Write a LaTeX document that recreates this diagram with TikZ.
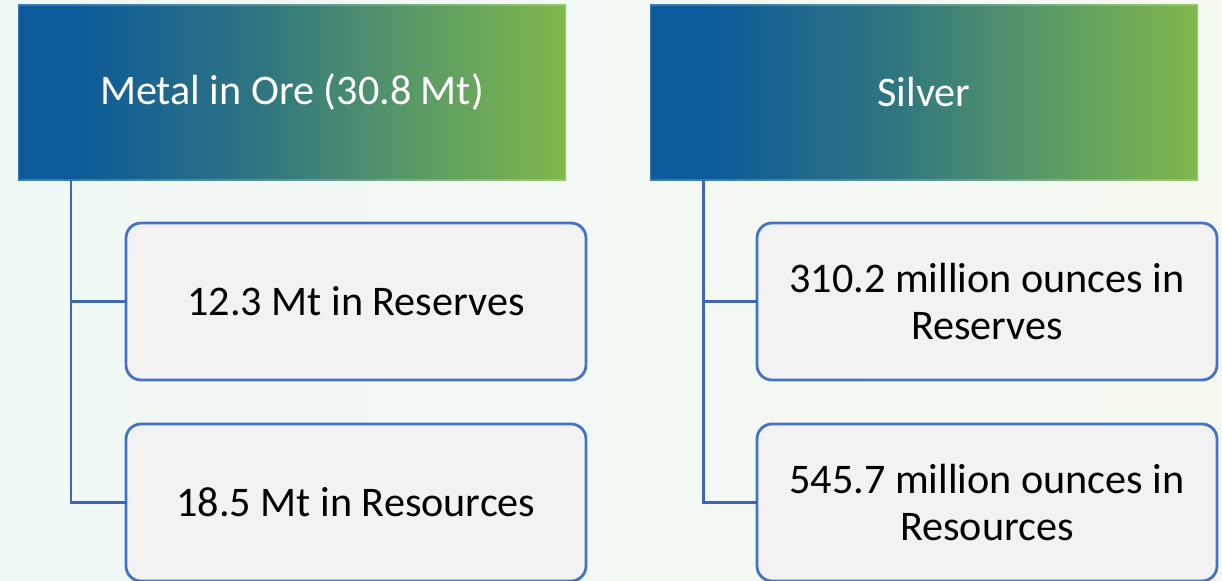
\documentclass[tikz,border=0pt]{standalone}
\usepackage{fontspec}
\setmainfont{Carlito}
\usetikzlibrary{calc,positioning}

\definecolor{bgleft}{HTML}{F0F8F5}
\definecolor{bgright}{HTML}{F5F9F0}
\definecolor{hblue}{HTML}{0C5A9B}
\definecolor{hmid}{HTML}{2F7581}
\definecolor{hlight}{HTML}{5C9C64}
\definecolor{hgreen}{HTML}{80B84B}
\definecolor{boxline}{HTML}{4472C4}
\definecolor{boxfill}{HTML}{F2F2F2}
\definecolor{linkline}{HTML}{3F66B0}

\pgfdeclarehorizontalshading{headshade}{100bp}{color(0bp)=(hblue); color(30bp)=(hblue);
  color(47bp)=(hmid); color(62bp)=(hlight); color(75bp)=(hgreen); color(100bp)=(hgreen)}

\begin{document}
\begin{tikzpicture}[
  font=\fontsize{30pt}{33.5pt}\selectfont,
  header/.style={rectangle,shading=headshade,draw=white,draw opacity=0.2,line width=1.5pt,
                 minimum width=13.7cm,minimum height=4.375cm,outer sep=0pt,
                 text=white,align=center},
  leaf/.style  ={rectangle,draw=boxline,fill=boxfill,line width=2pt,rounded corners=0.375cm,
                 minimum width=11.5cm,minimum height=3.925cm,outer sep=0pt,
                 align=center},
  link/.style  ={draw=linkline,line width=2pt},
]

% --- background and page size ---
\fill[left color=bgleft,right color=bgright] (0,0) rectangle (30.55,-14.525);
\useasboundingbox (0,0) rectangle (30.55,-14.525);

% --- headers ---
\node[header] (metal) at (7.3,-2.3125) {Metal in Ore (30.8 Mt)};
\node[header,right=2.1cm of metal] (silver) {Silver};

% --- left column ---
\node[leaf,below right=1.075cm and 2.7cm of metal.south west] (mtres) {12.3 Mt in Reserves};
\node[leaf,below=1.1cm of mtres] (mtrsc) {18.5 Mt in Resources};

% --- right column ---
\node[leaf,below right=1.075cm and 2.675cm of silver.south west] (agres) {310.2 million ounces in\\Reserves};
\node[leaf,below=1.1cm of agres] (agrsc) {545.7 million ounces in\\Resources};

%% --- connectors ---
\draw[link] ($(metal.south west)+(1.325,0)$) |- (mtres.west);
\draw[link] ($(metal.south west)+(1.325,0)$) |- (mtrsc.west);
\draw[link] ($(silver.south west)+(1.34,0)$) |- (agres.west);
\draw[link] ($(silver.south west)+(1.34,0)$) |- (agrsc.west);

\end{tikzpicture}
\end{document}
